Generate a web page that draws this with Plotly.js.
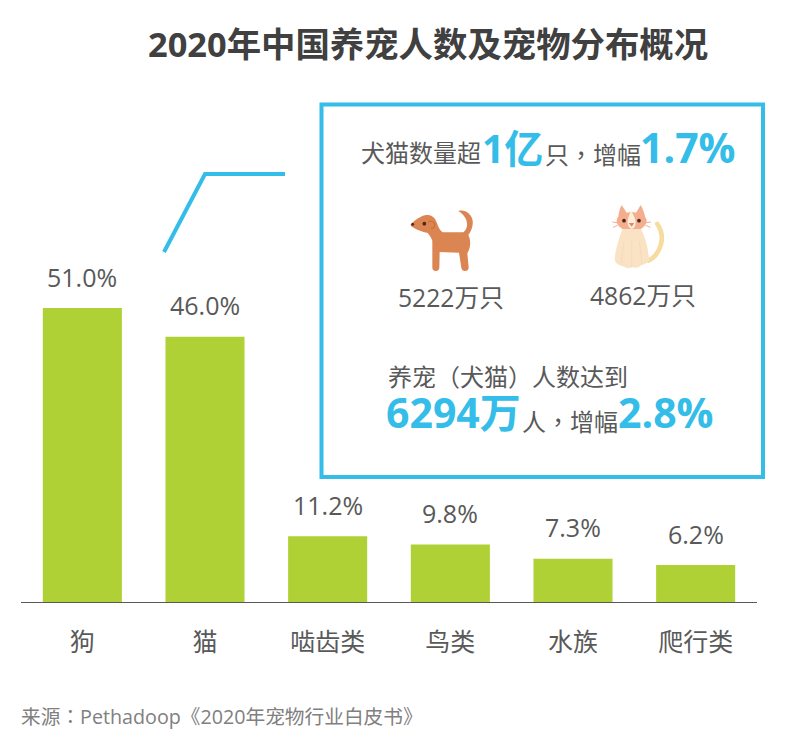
<!DOCTYPE html>
<html><head><meta charset="utf-8">
<script src="https://cdn.plot.ly/plotly-3.0.1.min.js"></script>
<style>html,body{margin:0;padding:0;background:#fff}</style></head>
<body><div id="chart" style="width:792px;height:734px"></div>
<script>
const categories = ['狗','猫','啮齿类','鸟类','水族','爬行类'];
const shares = [51.0,46.0,11.2,9.8,7.3,6.2];

const W=792,H=734,L=21,R=757,T=100,B=602;
const PX_PER_UNIT=5.737, EDGE=1.4;
const fx=x=>(x-L)/(R-L), fy=y=>(B-y)/(B-T);
const FONT='"Open Sans","Noto Sans CJK SC",sans-serif';
const GREY='#595959', BLUE='#33bde8', GREEN='#afd135';

const petsSvg=`<svg xmlns="http://www.w3.org/2000/svg" viewBox="0 0 810 240" width="810" height="240">
<path fill="#db8552" d="M33 72 C45 62 58 50 75 46 C90 43 105 50 111 70 C115 82 120 92 128 97 L190 97 C200 88 205 75 198 58 C194 48 186 40 175 33 C195 27 215 42 218 62 C220 78 214 92 205 105 C212 118 214 140 202 160 L206 203 C206 209 201 213 195 213 C189 213 185 209 184 203 L177 158 L119 156 L118 203 C118 209 113 213 107 213 C101 213 97 209 97 203 L97 122 C92 110 88 104 82 98 C68 96 48 88 36 80 C32 78 31 74 33 72Z"/>
<circle cx="73" cy="71" r="5.500" fill="#4d2518"/>
<circle cx="38" cy="73" r="4.500" fill="#5a2e1c"/>
<path fill="none" stroke="#c9622a" stroke-width="3" d="M85 66 C93 60 105 66 104 76 C103 84 97 88 93 83"/>
<path fill="none" stroke="#f7dca0" stroke-width="14" stroke-linecap="round" d="M745 182 C780 165 800 112 772 72"/>
<path fill="#fae3c4" d="M668 85 C655 120 642 165 645 182 C650 196 665 196 672 200 C680 205 690 205 698 202 C708 205 718 202 725 195 C738 193 748 185 747 175 C744 140 735 110 722 85Z"/>
<g stroke="#f2d6ad" stroke-width="2" fill="none"><path d="M672 125 L664 190 M695 120 L695 200 M718 125 L726 190"/></g>
<path fill="#f4ae8e" d="M665 15 L680 38 C690 35 700 35 708 38 L722 15 C730 30 734 42 735 50 C744 60 742 75 722 87 L668 87 C648 75 646 60 655 50 C656 40 658 28 665 15Z"/>
<path fill="#fdeeda" d="M693 30 C700 45 710 60 706 75 C703 90 688 90 684 75 C680 60 688 45 693 30Z"/>
<g stroke="#f4ae8e" stroke-width="3" fill="none" stroke-linecap="round"><path d="M650 68 L638 66 M652 76 L640 82 M740 68 L752 66 M738 76 L750 82"/></g>
<circle cx="672" cy="62" r="5.500" fill="#4d2518"/><circle cx="717" cy="62" r="5.500" fill="#4d2518"/>
<path fill="#e2856a" d="M686 69 L703 69 L695 80Z"/>
</svg>`;
const uri=s=>'data:image/svg+xml;charset=utf-8,'+encodeURIComponent(s);

const punct=t=>t.replace(/[，：]/g,m=>`<span style="font-family:'Noto Sans CJK TC'">${m}</span>`);
function txt(t,x,y,size,color,bold,anchor){
  const s=punct(t);
  return {text:bold?'<b>'+s+'</b>':s,xref:'paper',yref:'paper',x:fx(x),y:fy(y),xanchor:anchor||'left',yanchor:'middle',
    showarrow:false,font:{family:FONT,size:size,color:color},borderpad:0,borderwidth:0};
}
const annotations=[
  txt('2020年中国养宠人数及宠物分布概况',428,43.5,34.4,'#404040',true,'center'),
  txt('犬猫数量超',361,152,24,GREY),
  txt('1亿',482,147,39,BLUE,true),
  txt('只，增幅',545,153,24,GREY),
  txt('1.7%',640,147,41,BLUE,true),
  txt('5222万只',450.5,297,24.7,GREY,false,'center'),
  txt('4862万只',642.5,295,24.7,GREY,false,'center'),
  txt('养宠（犬猫）人数达到',388,376,24,GREY),
  txt('6294万',386,412,41,BLUE,true),
  txt('人，增幅',522,420,24,GREY),
  txt('2.8%',618,412,41,BLUE,true),
  txt('来源：Pethadoop《2020年宠物行业白皮书》',21,715,19.7,'#808080'),
];
categories.forEach((c,i)=>annotations.push({x:c,y:shares[i],xref:'x',yref:'y',text:shares[i].toFixed(1)+'%',
  showarrow:false,yanchor:'middle',xanchor:'center',yshift:32,font:{family:FONT,size:25,color:GREY}}));

const layout={
  width:W,height:H,paper_bgcolor:'#fff',plot_bgcolor:'#fff',showlegend:false,
  margin:{l:L,r:W-R,t:T,b:H-B,pad:0},
  bargap:0.367,
  xaxis:{type:'category',categoryorder:'array',categoryarray:categories,showgrid:false,zeroline:false,
    showline:true,linecolor:GREY,linewidth:1,ticks:'outside',ticklen:18,tickcolor:'rgba(0,0,0,0)',
    tickfont:{family:FONT,size:25,color:GREY},fixedrange:true},
  yaxis:{range:[-(EDGE/2)/PX_PER_UNIT,(B-T-EDGE/2)/PX_PER_UNIT],visible:false,fixedrange:true},
  annotations,
  shapes:[
    {type:'rect',xref:'paper',yref:'paper',x0:fx(321.5),x1:fx(763),y0:fy(477),y1:fy(104.5),line:{color:BLUE,width:4},fillcolor:'rgba(0,0,0,0)'},
    {type:'path',xref:'paper',yref:'paper',path:`M ${fx(164)} ${fy(252)} L ${fx(205)} ${fy(174)} L ${fx(285)} ${fy(174)}`,line:{color:BLUE,width:4},fillcolor:'rgba(0,0,0,0)'}
  ],
  images:[
    {source:uri(petsSvg),xref:'paper',yref:'paper',x:fx(400),y:fy(200),sizex:270/(R-L),sizey:80/(B-T),sizing:'stretch',xanchor:'left',yanchor:'top',layer:'above'}
  ]
};
Plotly.newPlot('chart',[{type:'bar',x:categories,y:shares,marker:{color:GREEN,line:{color:GREEN,width:EDGE}},hoverinfo:'x+y'}],layout,{displayModeBar:false,staticPlot:true});
</script></body></html>
